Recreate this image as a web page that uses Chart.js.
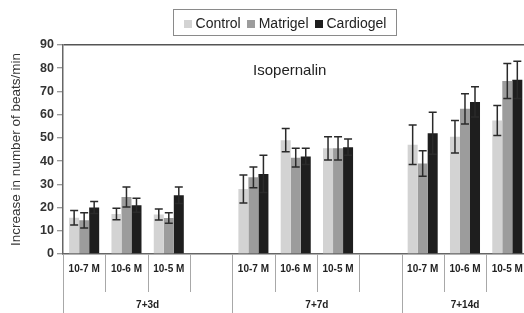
<!DOCTYPE html>
<html>
<head>
<meta charset="utf-8">
<script src="https://cdn.jsdelivr.net/npm/chart.js@4.4.1/dist/chart.umd.min.js"></script>
<style>
  html, body { margin: 0; padding: 0; background: #fff; overflow: hidden; }
  #wrap { position: relative; width: 532px; height: 313px; }
  #legend {
    position: absolute; left: 173px; top: 9px; width: 224px; height: 27px;
    border: 1px solid #8a8a8a; box-sizing: border-box;
    display: flex; align-items: center; justify-content: center; gap: 6px;
    font: 14px "Liberation Sans", Arial, sans-serif; color: #222;
  }
  #legend span.sw { display: inline-block; width: 8px; height: 8px; margin-right: 4px; vertical-align: middle; }
</style>
</head>
<body>
<div id="wrap">
  <canvas id="chart"></canvas>
  <div id="legend"></div>
</div>
<script>
/* ── Data ── */
const categories = ['10-7 M', '10-6 M', '10-5 M', '', '10-7 M', '10-6 M', '10-5 M', '', '10-7 M', '10-6 M', '10-5 M'];
const groupLabels = ['7+3d', '7+7d', '7+14d'];
const groupSpans  = [4, 4, 3];
const yTicks      = [0, 10, 20, 30, 40, 50, 60, 70, 80, 90];

const seriesNames = ['Control', 'Matrigel', 'Cardiogel'];
const control      = [15.6, 17.2, 17, null, 28, 49, 45.5, null, 47, 50.5, 57.5];
const controlErr   = [3.1, 2.5, 2.4, null, 6, 5, 5, null, 8.5, 7, 6.5];
const matrigel     = [14.5, 24.5, 15.5, null, 33, 41.5, 45.5, null, 39, 62.5, 74.5];
const matrigelErr  = [3.3, 4.3, 2.3, null, 4.5, 4, 5, null, 5.5, 6.5, 7.5];
const cardiogel    = [20, 21, 25.3, null, 34.5, 42, 46, null, 52, 65.5, 75];
const cardiogelErr = [2.6, 3, 3.5, null, 8, 3.5, 3.5, null, 9, 6.5, 8];

const colors = ['#d3d3d3', '#9c9c9c', '#1e1e1e'];
const FONT = '"Liberation Sans", Arial, sans-serif';

/* ── Legend (HTML) ── */
document.getElementById('legend').innerHTML = seriesNames.map((n, i) =>
  `<span><span class="sw" style="background:${colors[i]}"></span>${n}</span>`
).join('');

/* ── Plugins ── */
const errorBars = {
  id: 'errorBars',
  afterDatasetsDraw(chart) {
    const { ctx, scales: { y } } = chart;
    const errs = [controlErr, matrigelErr, cardiogelErr];
    ctx.save();
    ctx.strokeStyle = '#2a2a2a';
    ctx.lineWidth = 1.5;
    chart.data.datasets.forEach((ds, di) => {
      chart.getDatasetMeta(di).data.forEach((bar, i) => {
        const v = ds.data[i];
        if (v == null) return;
        const e = errs[di][i];
        const top = y.getPixelForValue(v + e);
        const bot = y.getPixelForValue(v - e);
        ctx.beginPath();
        ctx.moveTo(bar.x, top); ctx.lineTo(bar.x, bot);
        ctx.moveTo(bar.x - 4, top); ctx.lineTo(bar.x + 4, top);
        ctx.moveTo(bar.x - 4, bot); ctx.lineTo(bar.x + 4, bot);
        ctx.stroke();
      });
    });
    ctx.restore();
  },
};

const groupAxis = {
  id: 'groupAxis',
  afterDraw(chart) {
    const { ctx, chartArea, scales: { x } } = chart;
    const half = (x.getPixelForValue(1) - x.getPixelForValue(0)) / 2;
    const bottom = chart.height;
    const starts = [0];
    groupSpans.forEach((s, i) => starts.push(starts[i] + s));

    ctx.save();
    ctx.strokeStyle = '#a8a8a8';
    ctx.lineWidth = 1;
    for (let i = 0; i <= categories.length; i++) {
      const px = Math.round(x.getPixelForValue(i) - half) + 0.5;
      const long = starts.includes(i);
      ctx.beginPath();
      ctx.moveTo(px, chartArea.bottom);
      ctx.lineTo(px, long ? bottom : chartArea.bottom + 38);
      ctx.stroke();
    }

    ctx.fillStyle = '#222';
    ctx.font = `bold 10px ${FONT}`;
    ctx.textAlign = 'center';
    ctx.textBaseline = 'middle';
    groupLabels.forEach((g, i) => {
      const a = x.getPixelForValue(starts[i]) - half;
      const b = x.getPixelForValue(starts[i + 1] - 1) + half;
      ctx.fillText(g, (a + b) / 2, 305);
    });

    // panel caption inside the plot
    ctx.font = `15px ${FONT}`;
    ctx.fillText('Isopernalin', (chartArea.left + chartArea.right) / 2 - 6, 71);
    ctx.restore();
  },
};

/* ── Chart ── */
new Chart(document.getElementById('chart'), {
  type: 'bar',
  data: {
    labels: categories,
    datasets: [control, matrigel, cardiogel].map((d, i) => ({
      label: seriesNames[i],
      data: d,
      backgroundColor: colors[i],
      borderWidth: 0,
      barPercentage: 1,
      categoryPercentage: 0.71,
    })),
  },
  options: {
    responsive: true,
    maintainAspectRatio: false,
    animation: false,
    layout: { padding: { top: 45, right: 3, left: 0, bottom: 0 } },
    plugins: { legend: { display: false }, tooltip: { enabled: false } },
    scales: {
      x: {
        grid: { display: false, drawTicks: false },
        border: { display: true, color: '#666', width: 1.5 },
        ticks: {
          autoSkip: false, maxRotation: 0, padding: 9, color: '#222',
          font: { family: FONT, size: 10, weight: 'bold' },
        },
        afterFit: (s) => { s.height = 59; },
      },
      y: {
        min: 0, max: 90,
        afterBuildTicks: (s) => { s.ticks = yTicks.map((v) => ({ value: v })); },
        grid: {
          color: (c) => (c.tick && c.tick.value === 90 ? '#555' : 'rgba(0,0,0,0)'),
          lineWidth: 1.5,
          tickColor: '#777', tickLength: 6, tickWidth: 1,
        },
        border: { display: true, color: '#666', width: 1.5 },
        ticks: {
          padding: 3, color: '#333',
          font: { family: FONT, size: 12.5, weight: 'bold' },
        },
        title: {
          display: true, text: 'Increase in number of beats/min', color: '#333',
          font: { family: FONT, size: 13.5 }, padding: { top: 8, bottom: 0 },
        },
        afterFit: (s) => { s.width = 63; },
      },
    },
  },
  plugins: [errorBars, groupAxis],
});
</script>
</body>
</html>
